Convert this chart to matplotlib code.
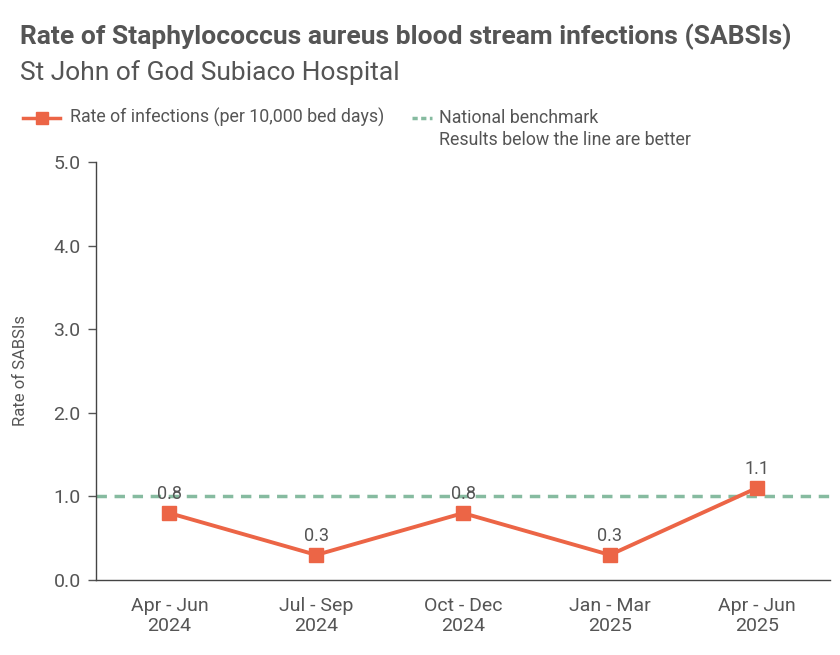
import matplotlib.pyplot as plt
from matplotlib.lines import Line2D

# data
periods = ['Apr - Jun\n2024', 'Jul - Sep\n2024', 'Oct - Dec\n2024', 'Jan - Mar\n2025', 'Apr - Jun\n2025']
rates = [0.8, 0.3, 0.8, 0.3, 1.1]
benchmark = 1.0
y_ticks = [0.0, 1.0, 2.0, 3.0, 4.0, 5.0]

line_col = '#EC6546'
bench_col = '#86BBA0'
text_col = '#555555'

plt.rcParams['font.family'] = ['Roboto', 'DejaVu Sans']

fig = plt.figure(figsize=(8.4, 6.55), dpi=100)
ax = fig.add_axes([0.1143, 0.1145, 0.874, 0.6382])

x = list(range(len(periods)))
ax.axhline(benchmark, color=bench_col, lw=2.5, ls=(0, (3, 2.2)), zorder=1)
ax.plot(x, rates, color=line_col, lw=2.8, marker='s', ms=10, zorder=3)

for xi, v in zip(x, rates):
    ax.annotate(f'{v:.1f}', (xi, v), xytext=(0, 7), textcoords='offset points',
                ha='center', va='bottom', fontsize=13, color=text_col)

ax.set_xlim(-0.5, 4.5)
ax.set_ylim(0, 5)
ax.set_yticks(y_ticks)
ax.set_yticklabels([f'{t:.1f}' for t in y_ticks])
ax.set_xticks(x)
ax.set_xticklabels(periods, linespacing=1.15)
ax.tick_params(axis='x', length=0, pad=12, labelsize=14, colors=text_col)
ax.tick_params(axis='y', length=6, width=1, pad=5, labelsize=14, colors=text_col)
for s in ['top', 'right']:
    ax.spines[s].set_visible(False)
for s in ['left', 'bottom']:
    ax.spines[s].set_color('#444444')
    ax.spines[s].set_linewidth(1)
ax.set_ylabel('Rate of SABSIs', fontsize=12, color=text_col, labelpad=18)

fig.text(0.024, 0.943, 'Rate of Staphylococcus aureus blood stream infections (SABSIs)',
         fontsize=19, fontweight='bold', color=text_col, va='center')
fig.text(0.024, 0.89, 'St John of God Subiaco Hospital', fontsize=19, color=text_col, va='center')

# legend drawn by hand
fig.add_artist(Line2D([0.027, 0.0495, 0.072], [0.82, 0.82, 0.82], color=line_col, lw=2.5,
                      marker='s', ms=9, markevery=[1], transform=fig.transFigure))
fig.text(0.083, 0.82, 'Rate of infections (per 10,000 bed days)', fontsize=12.8, color=text_col, va='center')
fig.add_artist(Line2D([0.491, 0.514], [0.82, 0.82], color=bench_col, lw=2.5, ls=(0, (1.5, 1)),
                      transform=fig.transFigure))
fig.text(0.523, 0.82, 'National benchmark', fontsize=12.8, color=text_col, va='center')
fig.text(0.523, 0.787, 'Results below the line are better', fontsize=12.8, color=text_col, va='center')

fig.savefig('out.png', dpi=100)
